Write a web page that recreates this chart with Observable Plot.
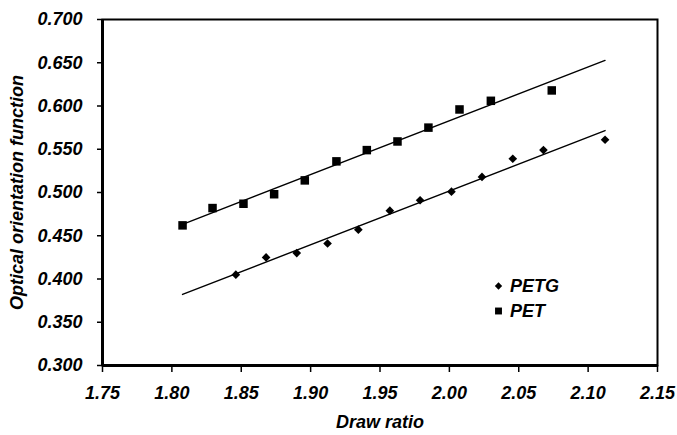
<!DOCTYPE html>
<html><head><meta charset="utf-8">
<script src="https://cdn.jsdelivr.net/npm/d3@7"></script>
<script src="https://cdn.jsdelivr.net/npm/@observablehq/plot@0.6"></script>
<style>
body{margin:0;background:#fff;}
#wrap{position:relative;width:677px;height:435px;}
#legend{position:absolute;left:0;top:0;pointer-events:none;}
</style></head><body><div id="wrap"></div>
<script>
const seriesNames = ["PETG", "PET"];
const petgX = [1.8461, 1.8679, 1.8900, 1.9122, 1.9344, 1.9571, 1.9789, 2.0015, 2.0235, 2.0457, 2.0678, 2.1122];
const petgY = [0.405, 0.425, 0.430, 0.441, 0.457, 0.479, 0.491, 0.501, 0.518, 0.539, 0.549, 0.561];
const petX = [1.8077, 1.8293, 1.8516, 1.8737, 1.8958, 1.9186, 1.9405, 1.9626, 1.9849, 2.0073, 2.0299, 2.0738];
const petY = [0.462, 0.482, 0.487, 0.498, 0.514, 0.536, 0.549, 0.559, 0.575, 0.596, 0.606, 0.618];
const xTicks = [1.75, 1.80, 1.85, 1.90, 1.95, 2.00, 2.05, 2.10, 2.15];
const yTicks = [0.300, 0.350, 0.400, 0.450, 0.500, 0.550, 0.600, 0.650, 0.700];
const xLabel = "Draw ratio";
const yLabel = "Optical orientation function";

const petg = petgX.map((x, i) => ({x, y: petgY[i], s: seriesNames[0]}));
const pet = petX.map((x, i) => ({x, y: petY[i], s: seriesNames[1]}));

// least-squares trend lines over the full x extent of both series
const xExt = d3.extent(petgX.concat(petX));
function trend(xs, ys, name) {
  const mx = d3.mean(xs), my = d3.mean(ys);
  const b = d3.sum(xs, (x, i) => (x - mx) * (ys[i] - my)) / d3.sum(xs, x => (x - mx) ** 2);
  const a = my - b * mx;
  return xExt.map(x => ({x, y: a + b * x, s: name}));
}
const trendData = trend(petgX, petgY, seriesNames[0]).concat(trend(petX, petY, seriesNames[1]));

const font = {fontFamily: "'Liberation Sans', Arial, sans-serif", fontSize: "18px", fontWeight: "bold", fontStyle: "italic", color: "#000", background: "#fff", overflow: "visible"};

const chart = Plot.plot({
  width: 677, height: 435,
  marginLeft: 102, marginRight: 20, marginTop: 19, marginBottom: 70,
  style: font,
  x: {domain: [1.75, 2.15]},
  y: {domain: [0.3, 0.7]},
  marks: [
    Plot.axisX({ticks: xTicks, tickFormat: d3.format(".2f"), tickSize: 7, tickPadding: 14, stroke: "#000", strokeWidth: 1.5,
      label: xLabel, labelAnchor: "center", labelArrow: "none", labelOffset: 62}),
    Plot.axisY({ticks: yTicks, tickFormat: d3.format(".3f"), tickSize: 5, tickPadding: 15, stroke: "#000", strokeWidth: 1.5,
      label: yLabel, labelAnchor: "center", labelArrow: "none", labelOffset: 92}),
    Plot.frame({stroke: "#000", strokeWidth: 2}),
    Plot.ruleX([1.75], {stroke: "#000", strokeWidth: 3}),
    Plot.ruleY([0.3], {stroke: "#000", strokeWidth: 3}),
    Plot.line(trendData, {x: "x", y: "y", z: "s", stroke: "#000", strokeWidth: 1.4}),
    Plot.dot(petg, {x: "x", y: "y", symbol: d3.symbolDiamond2, r: 3.9, fill: "#000", stroke: "none"}),
    Plot.dot(pet, {x: "x", y: "y", symbol: "square", r: 4.8, fill: "#000", stroke: "none"})
  ]
});
const wrap = document.getElementById("wrap");
wrap.appendChild(chart);

// legend overlay
const ns = "http://www.w3.org/2000/svg";
const lg = document.createElementNS(ns, "svg");
lg.setAttribute("id", "legend");
lg.setAttribute("width", 677);
lg.setAttribute("height", 435);
const items = [
  {name: seriesNames[0], sym: d3.symbol(d3.symbolDiamond2, 3.3 * 3.3 * Math.PI)(), cy: 286},
  {name: seriesNames[1], sym: d3.symbol(d3.symbolSquare, 3.9 * 3.9 * Math.PI)(), cy: 311}
];
for (const it of items) {
  const p = document.createElementNS(ns, "path");
  p.setAttribute("d", it.sym);
  p.setAttribute("transform", `translate(498.5,${it.cy})`);
  p.setAttribute("fill", "#000");
  lg.appendChild(p);
  const t = document.createElementNS(ns, "text");
  t.setAttribute("x", 510);
  t.setAttribute("y", it.cy + 6);
  t.setAttribute("font-family", "'Liberation Sans', Arial, sans-serif");
  t.setAttribute("font-size", "18px");
  t.setAttribute("font-weight", "bold");
  t.setAttribute("font-style", "italic");
  t.textContent = it.name;
  lg.appendChild(t);
}
wrap.appendChild(lg);
</script>
</body></html>
